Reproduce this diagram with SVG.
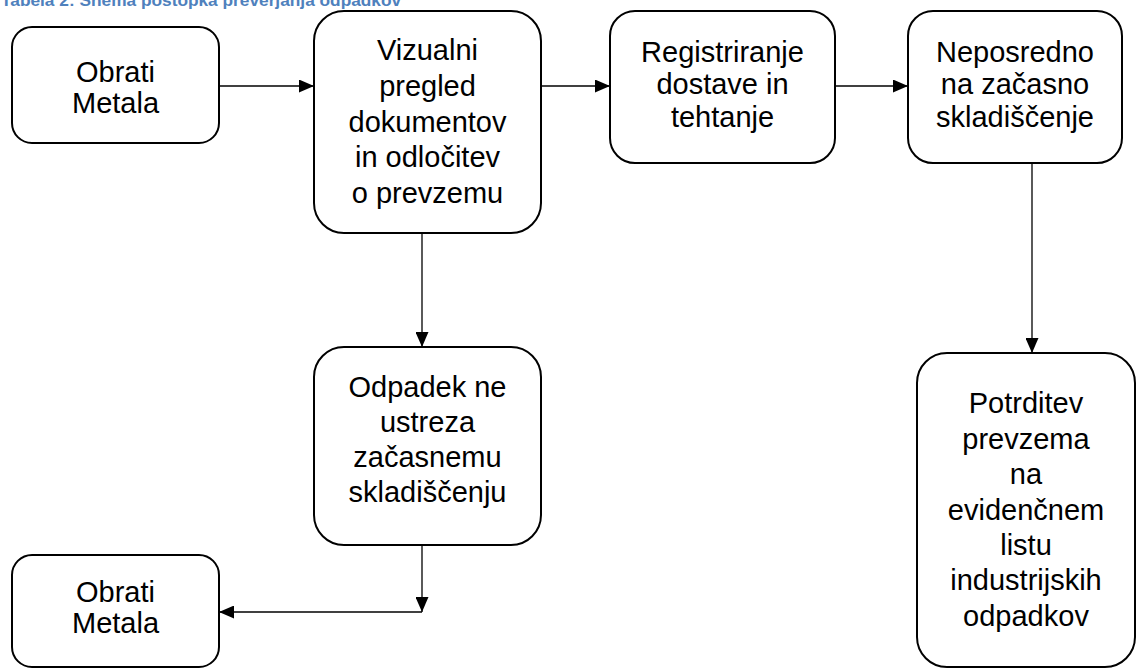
<svg xmlns="http://www.w3.org/2000/svg" width="1136" height="668" viewBox="0 0 1136 668">
<style>
.box{fill:#fff;stroke:#000;stroke-width:2}
.t{font-family:"Liberation Sans",Arial,sans-serif;font-size:29px;fill:#000;text-anchor:middle}
.title{font-family:"Liberation Sans",Arial,sans-serif;font-size:17.3px;font-weight:bold;fill:#4F81BD}
.c{fill:none;stroke:#000;stroke-width:1.3}
</style>
<defs>
<marker id="ah" markerWidth="15" markerHeight="13" refX="15" refY="6.5" orient="auto" markerUnits="userSpaceOnUse">
<path d="M0,0 L15,6.5 L0,13 Z" fill="#000"/>
</marker>
</defs>
<rect width="1136" height="668" fill="#fff"/>
<text class="title" x="1" y="6">Tabela 2: Shema postopka preverjanja odpadkov</text>
<g id="connectors">
<line class="c" x1="219" y1="86" x2="314" y2="86" marker-end="url(#ah)"/>
<line class="c" x1="541" y1="86" x2="610" y2="86" marker-end="url(#ah)"/>
<line class="c" x1="835" y1="86" x2="908" y2="86" marker-end="url(#ah)"/>
<line class="c" x1="422" y1="233" x2="422" y2="347" marker-end="url(#ah)"/>
<line class="c" x1="1032" y1="163" x2="1032" y2="353" marker-end="url(#ah)"/>
<line class="c" x1="422" y1="545" x2="422" y2="612" marker-end="url(#ah)"/>
<line class="c" x1="422" y1="612" x2="219" y2="612" marker-end="url(#ah)"/>
</g>
<g id="n1">
<rect class="box" x="12" y="27" width="207" height="116" rx="20"/>
<text class="t"><tspan x="115.5" y="81.7">Obrati</tspan><tspan x="115.5" y="113.3">Metala</tspan></text>
</g>
<g id="n2">
<rect class="box" x="314" y="11" width="227" height="222" rx="30"/>
<text class="t"><tspan x="427.5" y="60">Vizualni</tspan><tspan x="427.5" y="95.7">pregled</tspan><tspan x="427.5" y="131.5">dokumentov</tspan><tspan x="427.5" y="167.2">in odločitev</tspan><tspan x="427.5" y="203">o prevzemu</tspan></text>
</g>
<g id="n3">
<rect class="box" x="610" y="11" width="225" height="152" rx="25"/>
<text class="t"><tspan x="722.5" y="61.7">Registriranje</tspan><tspan x="722.5" y="94.2">dostave in</tspan><tspan x="722.5" y="126.7">tehtanje</tspan></text>
</g>
<g id="n4">
<rect class="box" x="908" y="11" width="214" height="152" rx="25"/>
<text class="t"><tspan x="1015" y="61.7">Neposredno</tspan><tspan x="1015" y="94.2">na začasno</tspan><tspan x="1015" y="126.7">skladiščenje</tspan></text>
</g>
<g id="n5">
<rect class="box" x="314" y="347" width="227" height="198" rx="30"/>
<text class="t"><tspan x="427.5" y="396.7">Odpadek ne</tspan><tspan x="427.5" y="431.7">ustreza</tspan><tspan x="427.5" y="467">začasnemu</tspan><tspan x="427.5" y="502">skladiščenju</tspan></text>
</g>
<g id="n6">
<rect class="box" x="12" y="555" width="207" height="112" rx="20"/>
<text class="t"><tspan x="115.5" y="601.7">Obrati</tspan><tspan x="115.5" y="633.3">Metala</tspan></text>
</g>
<g id="n7">
<rect class="box" x="917" y="353" width="218" height="314" rx="30"/>
<text class="t"><tspan x="1026" y="413">Potrditev</tspan><tspan x="1026" y="448.5">prevzema</tspan><tspan x="1026" y="484">na</tspan><tspan x="1026" y="519.5">evidenčnem</tspan><tspan x="1026" y="555">listu</tspan><tspan x="1026" y="590">industrijskih</tspan><tspan x="1026" y="625.5">odpadkov</tspan></text>
</g>
</svg>
